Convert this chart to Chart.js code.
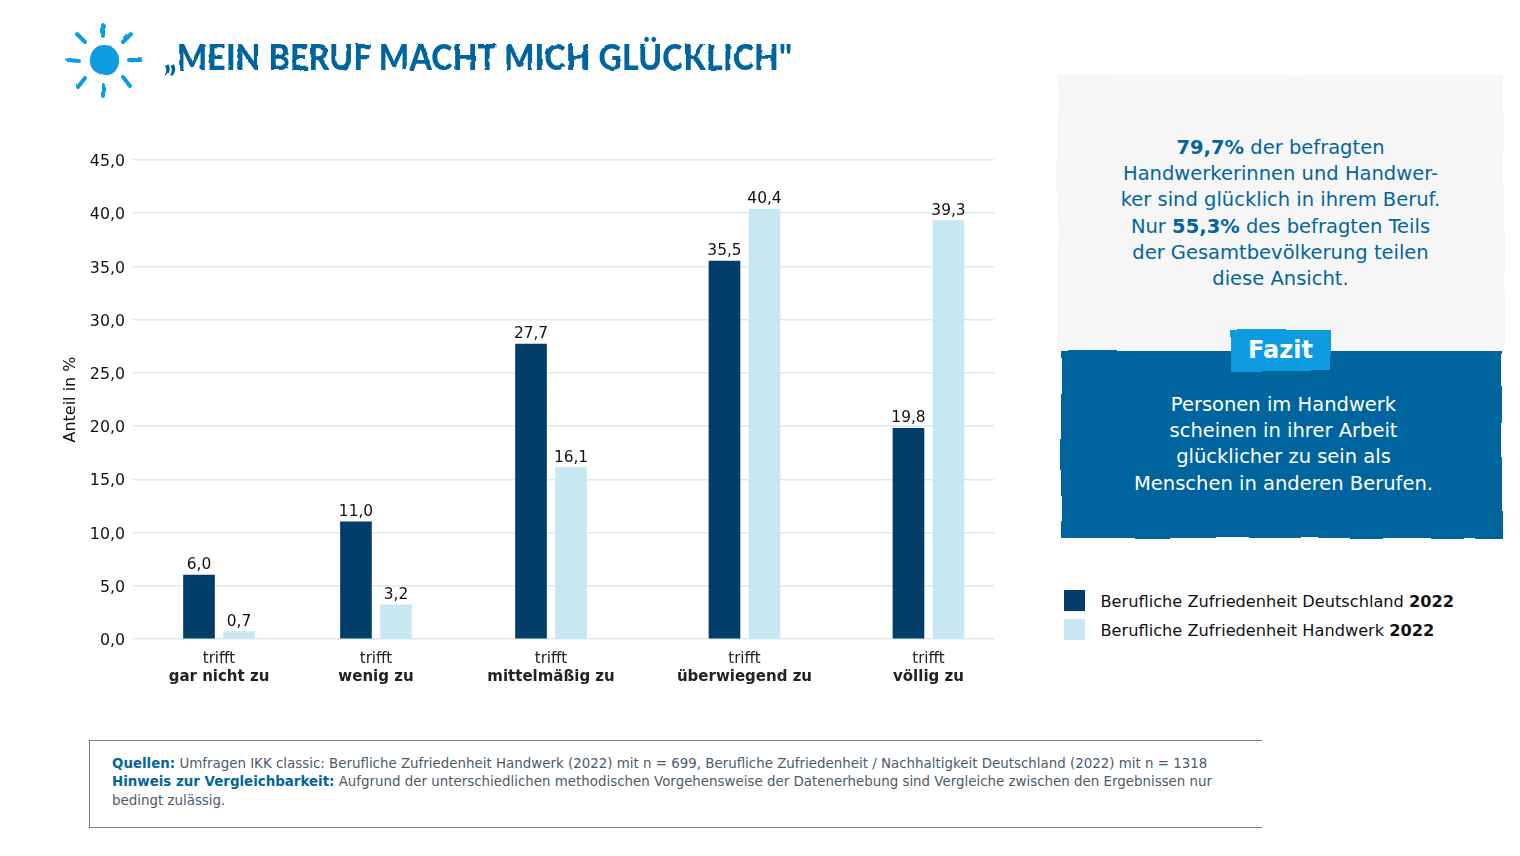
<!DOCTYPE html>
<html lang="de">
<head>
<meta charset="utf-8">
<title>Mein Beruf macht mich glücklich</title>
<script src="https://cdn.jsdelivr.net/npm/chart.js@4"></script>
<style>
  :root { --blue: #03659f; --sky: #0f9ce0; --dark: #023e69; --light: #c7e7f2; }
  html, body { margin: 0; background: #fff; }
  body { width: 1520px; height: 856px; position: relative; overflow: hidden; font-family: "DejaVu Sans", sans-serif; }
  #sun { position: absolute; left: 60px; top: 18px; filter: url(#rough); }
  h1 { position: absolute; left: 164px; top: 34px; margin: 0; font: 900 36px/44px Lato, sans-serif; color: var(--blue); white-space: nowrap; letter-spacing: .2px; transform: scaleX(.89); transform-origin: left center; filter: url(#rough); }
  #chart { position: absolute; left: 50px; top: 130px; }
  .panel { position: absolute; z-index: 0; text-align: center; white-space: nowrap; font-size: 19.5px; line-height: 26.2px; box-sizing: border-box; }
  .panel::before { content: ""; position: absolute; inset: 0; z-index: -1; filter: url(#edge); }
  #fact { left: 1057px; top: 75px; width: 447px; height: 277px; color: var(--blue); padding-top: 60px; }
  #fact::before { background: #f6f6f6; }
  #verdict { left: 1061px; top: 351px; width: 441px; height: 187px; color: #fff; padding: 41px 0 0 4px; }
  #verdict::before { background: var(--blue); }
  #tag { position: absolute; z-index: 1; left: 1230px; top: 330px; width: 101px; height: 41px; color: #fff; text-align: center; font: bold 24px/41px "DejaVu Sans", sans-serif; }
  #tag::before { content: ""; position: absolute; inset: 0; z-index: -1; background: var(--sky); filter: url(#edge); }
  .key { position: absolute; left: 1064px; height: 21px; font-size: 16.2px; line-height: 23px; color: #111; white-space: nowrap; padding-left: 36.5px; }
  .key i { position: absolute; left: 0; top: 0; width: 21px; height: 21px; }
  #sources { position: absolute; left: 89px; top: 740px; width: 1173px; height: 88px; box-sizing: border-box; border: 1px solid #6f8090; border-right: 0; padding: 14px 0 0 22px; font-size: 13.4px; line-height: 18.3px; color: #4b5b69; white-space: nowrap; }
  #sources b { color: var(--blue); }
</style>
</head>
<body>
<svg width="0" height="0" style="position:absolute">
  <filter id="rough" x="-3%" y="-10%" width="106%" height="120%">
    <feTurbulence type="fractalNoise" baseFrequency="0.09" numOctaves="2" seed="4"/>
    <feDisplacementMap in="SourceGraphic" scale="3"/>
  </filter>
  <filter id="edge" x="-3%" y="-5%" width="106%" height="110%">
    <feTurbulence type="fractalNoise" baseFrequency="0.015" numOctaves="2" seed="7"/>
    <feDisplacementMap in="SourceGraphic" scale="5"/>
  </filter>
</svg>
<svg id="sun" width="90" height="84" viewBox="60 18 90 84">
  <path d="M104 45 C113 45 120 52 119 62 C118 71 112 76 104 75 C95 74 89 68 90 59 C91 51 96 45 104 45Z" fill="#0f9ce0"/>
  <g stroke="#0f9ce0" stroke-width="4" stroke-linecap="round">
    <line x1="103" y1="25" x2="103" y2="36"/><line x1="131" y1="34" x2="123" y2="42"/>
    <line x1="129" y1="60" x2="141" y2="60"/><line x1="123" y1="77" x2="130" y2="86"/>
    <line x1="103" y1="85" x2="103" y2="96"/><line x1="78" y1="87" x2="85" y2="78"/>
    <line x1="68" y1="60" x2="79" y2="61"/><line x1="77" y1="34" x2="85" y2="42"/>
  </g>
</svg>
<h1>„MEIN BERUF MACHT MICH GLÜCKLICH"</h1>
<canvas id="chart" width="944" height="570"></canvas>
<div id="fact" class="panel"><b>79,7%</b> der befragten<br>Handwerkerinnen und Handwer-<br>ker sind glücklich in ihrem Beruf.<br>Nur <b>55,3%</b> des befragten Teils<br>der Gesamtbevölkerung teilen<br>diese Ansicht.</div>
<div id="verdict" class="panel">Personen im Handwerk<br>scheinen in ihrer Arbeit<br>glücklicher zu sein als<br>Menschen in anderen Berufen.</div>
<div id="tag">Fazit</div>
<div class="key" style="top:590px"><i style="background:var(--dark)"></i>Berufliche Zufriedenheit Deutschland <b>2022</b></div>
<div class="key" style="top:619px"><i style="background:var(--light)"></i>Berufliche Zufriedenheit Handwerk <b>2022</b></div>
<div id="sources"><b>Quellen:</b> Umfragen IKK classic: Berufliche Zufriedenheit Handwerk (2022) mit n = 699, Berufliche Zufriedenheit / Nachhaltigkeit Deutschland (2022) mit n = 1318<br><b>Hinweis zur Vergleichbarkeit:</b> Aufgrund der unterschiedlichen methodischen Vorgehensweise der Datenerhebung sind Vergleiche zwischen den Ergebnissen nur<br>bedingt zulässig.</div>

<script>
/* Balkendiagramm: berufliche Zufriedenheit Deutschland vs. Handwerk */
const categories = ['gar nicht zu', 'wenig zu', 'mittelmäßig zu', 'überwiegend zu', 'völlig zu'];
const deutschland = [6.0, 11.0, 27.7, 35.5, 19.8];
const handwerk = [0.7, 3.2, 16.1, 40.4, 39.3];
const yTicks = [0, 5, 10, 15, 20, 25, 30, 35, 40, 45];

// the groups are not evenly spaced in the original: share of axis width per category
const slotShare = [0.0999, 0.2822, 0.4855, 0.7102, 0.9239];

const DARK = '#023e69', LIGHT = '#c7e7f2', GRID = '#d9ebf1', INK = '#111';
const FONT = '"DejaVu Sans", sans-serif';
const de = v => v.toFixed(1).replace('.', ',');

class UnevenCategoryScale extends Chart.CategoryScale {
  getPixelForValue(value) {
    return this.getPixelForDecimal(slotShare[value]);
  }
}
UnevenCategoryScale.id = 'unevenCategory';
UnevenCategoryScale.defaults = Chart.CategoryScale.defaults;
Chart.register(UnevenCategoryScale);

const valueLabels = {
  id: 'valueLabels',
  afterDatasetsDraw(chart) {
    const { ctx } = chart;
    ctx.save();
    ctx.font = `15.4px ${FONT}`;
    ctx.fillStyle = INK;
    ctx.textAlign = 'center';
    ctx.textBaseline = 'alphabetic';
    chart.data.datasets.forEach((ds, i) => {
      chart.getDatasetMeta(i).data.forEach((bar, k) => ctx.fillText(de(ds.data[k]), bar.x, bar.y - 6));
    });
    ctx.restore();
  },
};

new Chart(document.getElementById('chart'), {
  type: 'bar',
  data: {
    labels: categories,
    datasets: [
      { label: 'Berufliche Zufriedenheit Deutschland 2022', data: deutschland, backgroundColor: DARK },
      { label: 'Berufliche Zufriedenheit Handwerk 2022', data: handwerk, backgroundColor: LIGHT },
    ],
  },
  options: {
    responsive: false,
    animation: false,
    layout: { padding: { top: 30 } },
    barThickness: 40,
    maxBarThickness: 31,
    plugins: { legend: { display: false }, tooltip: { enabled: false } },
    scales: {
      x: {
        type: 'unevenCategory',
        offset: false,
        grid: { display: false, drawTicks: false },
        border: { display: false },
        afterFit: s => { s.height = 29; },
        ticks: { callback: () => 'trifft', color: '#222', font: { family: FONT, size: 15 }, padding: 11, maxRotation: 0, autoSkip: false },
      },
      x2: {
        type: 'unevenCategory',
        position: 'bottom',
        offset: false,
        grid: { display: false, drawTicks: false },
        border: { display: false },
        afterFit: s => { s.height = 32; },
        ticks: { color: '#222', font: { family: FONT, size: 15, weight: 'bold' }, padding: 0, maxRotation: 0, autoSkip: false },
      },
      y: {
        min: 0,
        max: 45,
        afterFit: s => { s.width = 83; },
        afterBuildTicks: s => { s.ticks = yTicks.map(value => ({ value })); },
        grid: { color: GRID, lineWidth: 1.5, drawTicks: false },
        border: { display: false },
        ticks: { callback: v => de(v), color: INK, font: { family: FONT, size: 15.8 }, padding: 8, labelOffset: 2 },
        title: { display: true, text: 'Anteil in %', color: INK, font: { family: FONT, size: 16 }, padding: { top: 11, bottom: 0 } },
      },
    },
  },
  plugins: [valueLabels],
});
</script>
</body>
</html>
